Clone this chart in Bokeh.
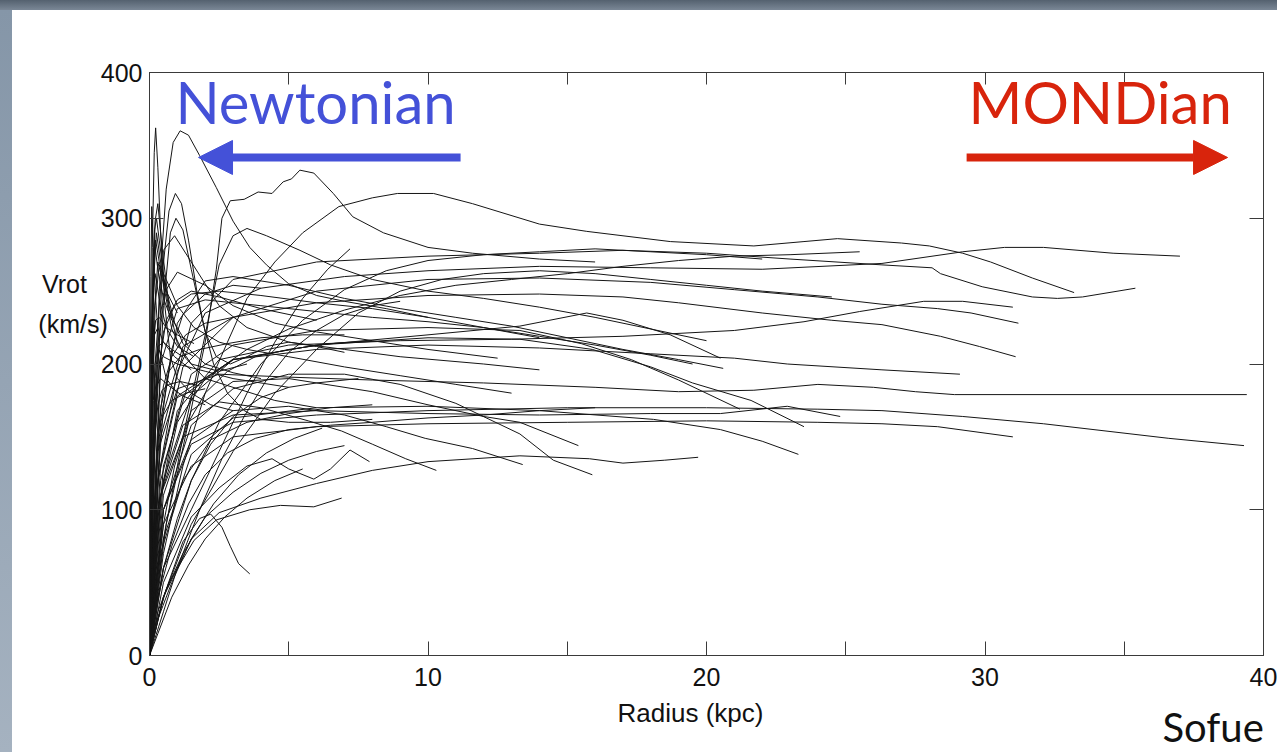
from bokeh.plotting import figure
from bokeh.models import Range1d, FixedTicker, LinearAxis, Label, Arrow, NormalHead, Spacer
from bokeh.layouts import column, row
from bokeh.embed import file_html
from bokeh.resources import INLINE

# Rotation curves (radius kpc, rotation velocity km/s) of spiral galaxies
g01 = [(0, 0), (0.15, 120), (0.35, 250), (0.6, 320), (0.85, 352), (1.1, 360), (1.4, 357), (1.8, 343), (2.4, 321), (3.0, 298), (3.6, 280), (4.2, 268), (5, 255), (6, 247), (7, 243), (8.5, 238), (10, 232), (12, 225), (14, 218)]
g02 = [(0, 0), (0.05, 150), (0.1, 280), (0.17, 345), (0.22, 362), (0.3, 335), (0.4, 290), (0.55, 240), (0.75, 205), (1.0, 190), (1.5, 180), (2.2, 172), (3, 168)]
g03 = [(0, 0), (0.2, 150), (0.45, 260), (0.7, 305), (0.93, 317), (1.15, 310), (1.4, 285), (1.7, 250), (2.0, 222), (2.4, 205), (2.9, 200), (3.5, 205), (4.2, 212), (5, 215), (6, 212), (7, 208)]
g04 = [(0, 0), (0.2, 120), (0.5, 240), (0.75, 290), (0.95, 300), (1.2, 292), (1.5, 265), (1.9, 230), (2.3, 200), (2.8, 180), (3.4, 168), (4, 162), (5, 160), (6.5, 160), (8, 162)]
g05 = [(0, 0), (0.6, 90), (1.4, 160), (2.0, 215), (2.4, 265), (2.6, 300), (2.9, 312), (3.4, 313), (3.9, 318), (4.4, 317), (4.8, 325), (5.1, 327), (5.4, 333), (5.9, 331), (6.6, 317), (7.3, 301), (8.4, 290), (10, 280), (11.6, 276), (14, 272), (16, 270)]
g06 = [(0, 0), (0.5, 70), (1.2, 130), (2, 180), (2.8, 215), (3.5, 245), (4.5, 270), (5.5, 290), (6.8, 308), (8, 314), (8.9, 317), (10.2, 317), (11.6, 310), (14, 296), (15.7, 291), (18.7, 284), (21.7, 281), (23.5, 284), (24.7, 286), (27, 283), (28, 281), (29.2, 276), (30.2, 270), (31.7, 259), (33.2, 249)]
g07 = [(0, 0), (0.3, 120), (1, 195), (2, 235), (4, 252), (7, 260), (10, 264), (14, 267), (18, 266), (22, 265), (26.3, 269), (29.2, 277), (30.7, 280), (32.1, 280), (34.6, 276), (37, 274)]
g08 = [(0, 0), (0.4, 150), (1.5, 228), (3, 258), (6, 270), (10, 274), (14, 276), (17, 278), (20, 276), (23, 272), (26.3, 268), (28.1, 266), (28.4, 262), (29.9, 253), (31.7, 246), (32.6, 245), (33.5, 246), (35.4, 252)]
g09 = [(0, 0), (0.3, 100), (1, 168), (2.5, 203), (5, 213), (9, 216), (13, 217), (17, 219), (21, 223), (23.5, 229), (25.5, 236), (27.8, 243), (29.2, 243), (31, 239)]
g10 = [(0, 0), (0.4, 130), (1.2, 198), (3, 232), (6, 250), (10, 258), (14, 259), (18, 256), (21, 251), (24, 246), (26.3, 241), (28.3, 238), (29.5, 235), (31.2, 228)]
g11 = [(0, 0), (0.4, 160), (1.2, 212), (3, 232), (6, 242), (10, 247), (14, 248), (17, 246), (19, 242), (22, 235), (24.5, 230), (26.3, 227), (28.4, 219), (29.8, 212), (31.1, 205)]
g12 = [(0, 0), (0.3, 120), (1, 178), (3, 203), (6, 210), (10, 213), (14, 211), (18, 207), (21, 204), (22.9, 200), (26.3, 196), (29.1, 193)]
g13 = [(0, 0), (0.3, 140), (1, 183), (2.5, 193), (5, 191), (8, 189), (12, 187), (16, 184), (19, 181), (21.7, 182), (24, 186), (26, 184), (27.5, 181), (28.9, 179), (39.4, 179)]
g14 = [(0, 0), (0.5, 100), (1.5, 145), (3, 160), (6, 165), (10, 168), (15, 170), (20, 170), (24, 169), (26.3, 168), (29.2, 164), (32.1, 159), (36.6, 149), (39.3, 144)]
g15 = [(0, 0), (0.5, 90), (1.5, 130), (3, 150), (6, 157), (10, 159), (15, 160), (20, 161), (24, 160), (26.3, 159), (28.3, 157), (31, 150)]
g16 = [(0, 0), (0.5, 80), (1.5, 138), (3, 163), (6, 170), (10, 171), (14, 168), (18.1, 162), (20.5, 155), (22, 147), (23.3, 138)]
g17 = [(0, 0), (0.4, 120), (1.2, 178), (3, 203), (6, 213), (10, 218), (13.3, 217), (15.9, 210), (18, 198), (19.5, 187), (21.6, 175), (23.5, 157)]
g18 = [(0, 0), (0.4, 110), (1.2, 150), (3, 165), (6, 168), (10, 166), (14, 165), (18, 166), (20.5, 166), (22.9, 171), (24.8, 164)]
g19 = [(0, 0), (0.5, 130), (1.5, 193), (3, 213), (6, 223), (10, 225), (13.3, 223), (15.5, 214), (17.3, 203), (19, 189), (21.2, 169)]
g20 = [(0, 0), (0.5, 120), (1.5, 178), (3, 203), (6, 213), (10, 220), (13.3, 226), (15.7, 235), (17, 230), (18.7, 220), (20.5, 204)]
g21 = [(0, 0), (0.5, 40), (1.5, 80), (2.5, 98), (4, 108), (6, 118), (8, 127), (10, 133), (13.3, 137), (15.8, 135), (17, 132), (18.5, 134), (19.7, 136)]
g22 = [(0, 0), (0.5, 100), (1.5, 158), (3, 183), (5, 193), (7, 193), (9, 186), (11, 173), (13.3, 152), (14.5, 134), (15.9, 124)]
g23 = [(0, 0), (0.5, 110), (1.5, 168), (3, 188), (5, 190), (8, 181), (10, 172), (12, 164), (13.3, 160), (15.4, 144)]
g24 = [(0, 0), (0.4, 110), (1.2, 158), (2.5, 174), (4, 170), (5.7, 161), (6.9, 154), (8, 145), (9.2, 135), (10.3, 127)]
g25 = [(0, 0), (0.5, 100), (1.5, 148), (3, 168), (5, 171), (7, 165), (8.5, 157), (9.9, 149), (11.6, 142), (13.4, 131)]
g26 = [(0, 0), (0.5, 40), (1.2, 78), (1.8, 94), (2.2, 97), (2.6, 88), (2.9, 75), (3.2, 63), (3.6, 56)]
g27 = [(0, 0), (0.3, 30), (0.7, 50), (1.6, 79), (2.4, 93), (3.6, 100), (4.7, 103), (5.9, 102), (6.9, 108)]
g28 = [(0, 0), (0.5, 50), (1.5, 95), (2.5, 115), (3.5, 130), (4.4, 135), (5.0, 128), (5.9, 121), (6.5, 128), (7.2, 141), (7.9, 133)]
g29 = [(0, 0), (0.5, 80), (1.2, 150), (2, 220), (2.5, 268), (3.0, 288), (3.5, 293), (4.2, 288), (5.4, 278), (6.5, 268), (8, 258), (10, 250), (12, 245), (14, 239), (16, 232), (18, 224), (20, 216)]
g30 = [(0, 0), (0.5, 60), (1.5, 100), (2.5, 140), (3.5, 180), (4.5, 215), (5.5, 245), (6.4, 265), (7.2, 279)]
g31 = [(0, 0), (0.5, 40), (1.5, 90), (3, 140), (4.5, 180), (6, 210), (7.5, 235), (9, 250), (10.5, 258), (12, 262), (14, 264), (16, 262), (18, 258), (20, 254), (22, 250), (24.5, 246)]
g32 = [(0, 0), (0.3, 150), (1, 228), (2, 257), (3, 260), (5, 254), (7, 245), (9, 238), (11, 232), (13, 226), (15, 218), (17, 210), (19, 203), (20.6, 197)]
g33 = [(0, 0), (0.3, 100), (1, 160), (2, 190), (3.5, 210), (5, 224), (7, 237), (9, 247), (11, 254), (13, 258), (15, 262), (17, 267), (19, 271), (21, 274), (23, 275), (25.5, 277)]
g34 = [(0, 0), (0.2, 200), (0.5, 278), (0.9, 288), (1.5, 270), (2.5, 240), (3.5, 225), (5, 215), (7, 210), (9, 205), (12, 200), (14, 196)]
g35 = [(0, 0), (0.2, 180), (0.5, 248), (1, 263), (2, 254), (3, 240), (4.5, 228), (6, 222), (8, 216), (10, 210), (12.5, 204)]
g36 = [(0, 0), (0.4, 200), (1, 238), (2, 244), (4, 240), (6, 236), (8, 232), (10, 229), (12, 225), (14, 219), (16, 213), (18, 206), (19.5, 200)]
g37 = [(0, 0), (0.5, 60), (1.5, 120), (2.5, 160), (4, 200), (5.5, 230), (7, 251), (8.5, 264), (10, 271), (12, 275), (14, 277), (16, 279), (18, 277), (20, 275), (22, 272)]
g38 = [(0, 0), (0.05, 100), (0.1, 200), (0.15, 258), (0.25, 290), (0.4, 270), (0.7, 238), (1.2, 214), (2, 200), (3, 194), (4, 190)]
g39 = [(0, 0), (0.08, 150), (0.15, 230), (0.3, 270), (0.5, 255), (0.8, 224), (1.3, 204), (2, 190), (3, 184), (4.5, 175), (6, 170)]
g40 = [(0, 0), (0.1, 120), (0.2, 190), (0.3, 210), (0.5, 205), (1, 200), (2, 195), (3, 190), (5, 184)]
g41 = [(0, 0), (0.06, 140), (0.12, 230), (0.2, 298), (0.3, 310), (0.45, 280), (0.7, 240), (1, 214), (1.5, 200), (2.5, 195), (3.5, 200)]
g42 = [(0, 0), (0.1, 80), (0.2, 150), (0.35, 200), (0.6, 230), (1, 244), (1.5, 250), (2.5, 246), (4, 238), (6, 230)]
g43 = [(0, 0), (0.15, 60), (0.3, 120), (0.5, 170), (0.8, 210), (1.2, 234), (2, 248), (3, 254), (4, 252)]
g44 = [(0, 0), (0.2, 20), (0.6, 45), (1.2, 70), (2, 95), (3, 112), (4, 125), (5, 134), (6, 140), (7, 144)]
g45 = [(0, 0), (0.3, 25), (0.8, 50), (1.5, 80), (2.3, 104), (3.2, 124), (4.2, 139), (5.2, 149), (6.2, 156)]
g46 = [(0, 0), (0.3, 40), (0.8, 75), (1.4, 104), (2, 124), (2.8, 139), (3.8, 149), (5, 155), (6.5, 158), (8, 160), (10, 163), (12, 165), (14, 168), (16, 170)]
g47 = [(0, 0), (0.2, 30), (0.5, 60), (1, 94), (1.5, 120), (2.2, 145), (3, 164), (4, 177), (5, 184), (6, 187), (7.5, 190)]
g48 = [(0, 0), (0.5, 30), (1, 60), (1.8, 100), (2.6, 135), (3.4, 164), (4.2, 189), (5, 208), (6, 223), (7, 234), (8, 240), (9, 243)]
g49 = [(0, 0), (0.3, 15), (0.8, 40), (1.4, 62), (2, 80), (2.7, 95), (3.5, 108), (4.5, 120), (5.5, 128)]
g50 = [(0, 0), (0.2, 45), (0.5, 90), (0.9, 130), (1.4, 160), (2, 180), (2.8, 195), (3.8, 205), (5, 210), (6.5, 214), (8, 216)]
g51 = [(0, 0), (0.1, 60), (0.25, 130), (0.4, 170), (0.7, 195), (1.1, 205), (1.8, 210), (2.8, 214), (4, 218), (5.5, 220), (7, 220)]
g52 = [(0, 0), (0.15, 90), (0.3, 150), (0.5, 185), (0.8, 205), (1.3, 220), (2, 228), (3, 232)]
g53 = [(0, 0), (0.4, 70), (1.2, 120), (2.2, 148), (3.5, 160), (5, 166), (6.5, 170), (8, 172)]
g54 = [(0, 0), (0.1, 160), (0.2, 240), (0.35, 268), (0.6, 258), (1, 240), (1.6, 225), (2.5, 215), (3.5, 210), (5, 205), (7, 198), (9, 192), (11, 186), (13, 180)]
g55 = [(0, 0), (0.1, 100), (0.25, 180), (0.5, 222), (0.9, 240), (1.5, 248), (2.5, 250), (4, 247), (6, 242), (8, 238), (10, 232)]
g56 = [(0, 0), (0.03, 80), (0.07, 160), (0.1, 230), (0.15, 270), (0.22, 285), (0.35, 270), (0.6, 250), (1, 235)]
g57 = [(0, 0), (0.04, 120), (0.08, 200), (0.13, 250), (0.2, 262), (0.35, 245), (0.6, 225), (1, 212), (1.6, 205)]
g58 = [(0, 0), (0.02, 60), (0.06, 140), (0.1, 190), (0.18, 220), (0.3, 225), (0.5, 215), (0.9, 205), (1.5, 196)]
g59 = [(0, 0), (0.05, 50), (0.1, 110), (0.16, 160), (0.25, 185), (0.4, 190), (0.7, 185), (1.2, 178), (2, 172)]
g60 = [(0, 0), (0.02, 150), (0.05, 260), (0.08, 308), (0.12, 290), (0.2, 250), (0.35, 210), (0.6, 190), (1, 180)]
g61 = [(0, 0), (0.03, 90), (0.06, 170), (0.1, 240), (0.14, 275), (0.2, 280), (0.3, 265), (0.5, 245), (0.8, 230)]
g62 = [(0, 0), (0.04, 70), (0.09, 130), (0.14, 175), (0.2, 200), (0.3, 212), (0.5, 215), (0.8, 210), (1.2, 205)]
g63 = [(0, 0), (0.05, 110), (0.1, 180), (0.15, 215), (0.22, 230), (0.35, 232), (0.6, 225), (1, 220), (1.6, 214)]
g64 = [(0, 0), (0.06, 60), (0.12, 110), (0.2, 150), (0.3, 172), (0.45, 182), (0.7, 186), (1.1, 188), (1.8, 185)]
g65 = [(0, 0), (0.03, 100), (0.07, 190), (0.12, 250), (0.18, 292), (0.25, 300), (0.35, 285), (0.55, 255), (0.9, 228), (1.4, 212)]
g66 = [(0, 0), (0.08, 40), (0.16, 85), (0.25, 125), (0.35, 150), (0.5, 165), (0.8, 175), (1.3, 180), (2, 183)]

curves = [g01, g02, g03, g04, g05, g06, g07, g08, g09, g10,
          g11, g12, g13, g14, g15, g16, g17, g18, g19, g20,
          g21, g22, g23, g24, g25, g26, g27, g28, g29, g30,
          g31, g32, g33, g34, g35, g36, g37, g38, g39, g40,
          g41, g42, g43, g44, g45, g46, g47, g48, g49, g50,
          g51, g52, g53, g54, g55, g56, g57, g58, g59, g60,
          g61, g62, g63, g64, g65, g66]

x_ticks = [0, 10, 20, 30, 40]
x_minor_ticks = [5, 15, 25, 35]
y_ticks = [0, 100, 200, 300, 400]

AXIS_COLOR = "#3a3a3a"
TICK_FONT = "Liberation Sans"
SLIDE_FONT = "Lato"
TEXT_COLOR = "#111111"

# ---- main chart -------------------------------------------------------------
p = figure(width=1265, height=685,
           x_range=Range1d(0, 40), y_range=Range1d(0, 400),
           output_backend="svg", toolbar_location=None,
           min_border_left=137, min_border_right=14,
           min_border_top=62, min_border_bottom=40,
           background_fill_color="white", border_fill_color="white",
           outline_line_color=AXIS_COLOR, outline_line_width=1)
p.xgrid.visible = False
p.ygrid.visible = False

p.multi_line(xs=[[r for r, v in c] for c in curves],
             ys=[[v for r, v in c] for c in curves],
             line_color="#151515", line_width=1)


def style_axis(axis, ticker, tick_len, show_labels, standoff):
    axis.ticker = ticker
    axis.axis_line_color = AXIS_COLOR
    axis.major_tick_line_color = AXIS_COLOR
    axis.minor_tick_line_color = AXIS_COLOR
    axis.major_tick_in = tick_len
    axis.major_tick_out = 0
    axis.minor_tick_in = tick_len
    axis.minor_tick_out = 0
    axis.major_label_standoff = standoff
    if show_labels:
        axis.major_label_text_font = TICK_FONT
        axis.major_label_text_font_size = "25px"
        axis.major_label_text_color = TEXT_COLOR
        axis.axis_label_text_font = TICK_FONT
        axis.axis_label_text_font_size = "25px"
        axis.axis_label_text_font_style = "normal"
        axis.axis_label_text_color = TEXT_COLOR
    else:
        axis.major_label_text_font_size = "0px"


xaxis = p.xaxis[0]
yaxis = p.yaxis[0]
style_axis(xaxis, FixedTicker(ticks=x_ticks, minor_ticks=x_minor_ticks), 14, True, 12)
style_axis(yaxis, FixedTicker(ticks=y_ticks), 14, True, 7)

# horizontal two-line title for the velocity axis, lifted above the axis middle
yaxis.axis_label = "Vrot" + "\u00a0" * 3 + "\n(km/s)\n \n \n "
yaxis.axis_label_orientation = "horizontal"
yaxis.axis_label_text_line_height = 1.42
yaxis.axis_label_standoff = -10

top_axis = LinearAxis()
style_axis(top_axis, FixedTicker(ticks=x_ticks, minor_ticks=x_minor_ticks), 12, False, 0)
p.add_layout(top_axis, "above")

right_axis = LinearAxis()
style_axis(right_axis, FixedTicker(ticks=y_ticks), 14, False, 0)
p.add_layout(right_axis, "right")

# regime annotations
blue = "#4451d8"
red = "#d8240c"
p.add_layout(Label(x=0.93, y=380, text="Newtonian", text_font=SLIDE_FONT, text_font_size="58px",
                   text_color=blue, text_baseline="alphabetic"))
p.add_layout(Label(x=29.41, y=380, text="MONDian", text_font=SLIDE_FONT, text_font_size="58px",
                   text_color=red, text_baseline="alphabetic"))
p.add_layout(Arrow(end=NormalHead(size=34, fill_color=blue, line_color=blue),
                   x_start=11.17, y_start=341.7, x_end=1.76, y_end=341.7,
                   line_color=blue, line_width=8))
p.add_layout(Arrow(end=NormalHead(size=34, fill_color=red, line_color=red),
                   x_start=29.34, y_start=341.7, x_end=38.71, y_end=341.7,
                   line_color=red, line_width=8))

# ---- caption strip under the chart (coordinates in page pixels) -------------
caption = figure(width=1265, height=57,
                 x_range=Range1d(12, 1277), y_range=Range1d(752, 695),
                 output_backend="svg", toolbar_location=None,
                 x_axis_type=None, y_axis_type=None,
                 min_border_left=0, min_border_right=0, min_border_top=0, min_border_bottom=0,
                 background_fill_color="white", border_fill_color="white",
                 outline_line_color=None)
caption.xgrid.visible = False
caption.ygrid.visible = False
caption.add_layout(Label(x=617, y=712, text="Radius (kpc)", text_font=TICK_FONT,
                         text_font_size="26px", text_color=TEXT_COLOR, text_baseline="alphabetic"))
caption.add_layout(Label(x=1162, y=726, text="Sofue", text_font=SLIDE_FONT,
                         text_font_size="40px", text_color=TEXT_COLOR, text_baseline="alphabetic"))

# slide frame: dark band along the top, lighter band down the left side
top_band = Spacer(width=1277, height=10,
                  styles={"background": "linear-gradient(to bottom, #54616f, #7a8796)"})
left_band = Spacer(width=12, height=742,
                   styles={"background": "linear-gradient(to bottom, #8596a8, #a5b2c0)"})
# each figure sits in its own row so the two frames are laid out independently
body = column(row(p), row(caption), width=1265, height=742, styles={"background": "white"})
page = column(top_band, row(left_band, body), width=1277, height=752,
              styles={"background": "white"})

open("out.html", "w").write(file_html(page, INLINE))
